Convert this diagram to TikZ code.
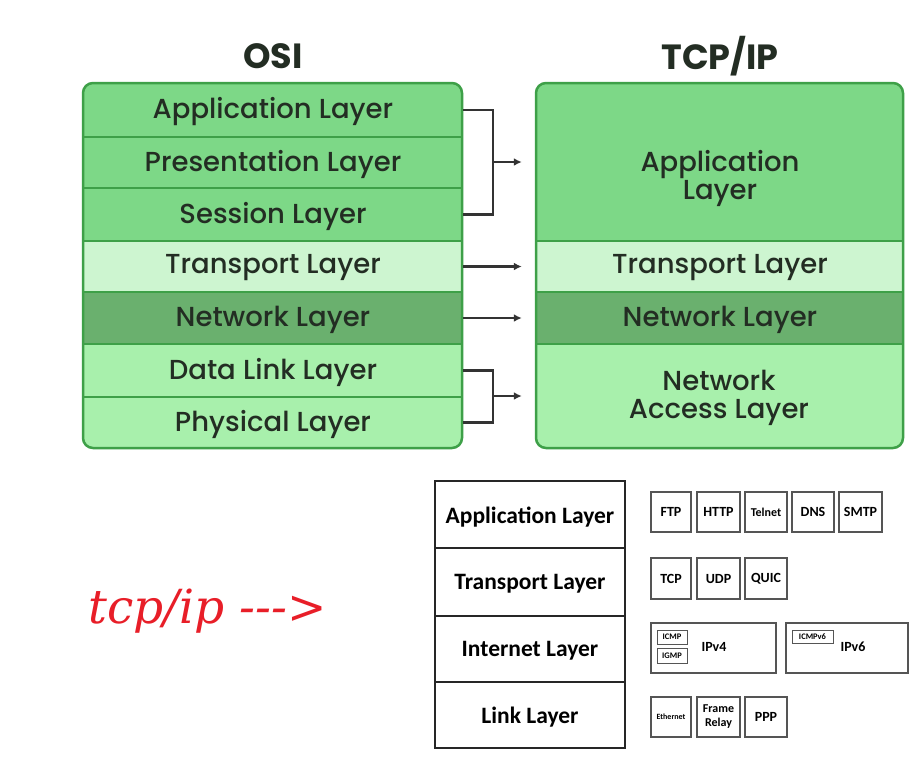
\documentclass[tikz,border=0pt]{standalone}
\usepackage{fontspec}
\setmainfont{Poppins}[UprightFont=* Medium, BoldFont=* Bold]
\newfontfamily\calfont{Carlito}
\newfontfamily\redfont{DejaVu Serif}
\usetikzlibrary{arrows.meta}
\definecolor{gMid}{RGB}{125,216,135}
\definecolor{gLight}{RGB}{205,245,208}
\definecolor{gDark}{RGB}{106,176,110}
\definecolor{gPale}{RGB}{168,240,172}
\definecolor{gBorder}{RGB}{62,160,72}
\definecolor{txt}{RGB}{35,45,35}
\definecolor{connc}{RGB}{51,51,51}
\definecolor{redtxt}{RGB}{232,30,40}
\definecolor{boxgray}{RGB}{85,85,85}
\begin{document}
\begin{tikzpicture}[x=1pt,y=-1pt,
  layerrow/.style={draw=gBorder,line width=2.5pt,inner sep=0pt,minimum width=#1},
  layertext/.style={font=\fontsize{27.5}{28}\selectfont,text=txt,align=center},
  title/.style={font=\bfseries\fontsize{35}{38}\selectfont,text=txt},
  link/.style={draw=connc,line width=2.8pt},
  arr/.style={link,-{Latex[length=8pt,width=8pt]},shorten >=13pt},
  cell/.style={draw=black!85,line width=1.5pt,minimum width=190pt,inner sep=0pt},
  celltext/.style={font=\calfont\bfseries\fontsize{23.5}{26}\selectfont},
  pbox/.style={draw=boxgray,line width=1.3pt,fill=white,inner sep=0pt,align=center,
    font=\calfont\bfseries\fontsize{14}{14}\selectfont},
  tiny/.style={pbox,line width=1pt,font=\calfont\bfseries\fontsize{8.5}{9}\selectfont}
]
\useasboundingbox (0,0) rectangle (912,764);
\fill[white] (0,0) rectangle (912,764);

% titles
\node[title] (osit) at (273,56) {OSI};
\node[title] (tcpt) at (720,56) {TCP/IP};

% OSI stack
\begin{scope}
\clip[rounded corners=10pt] (83,83) rectangle (462,448);
\node[layerrow=379pt,fill=gMid,minimum height=54pt] (o1) at (272.5,110) {};
\node[layerrow=379pt,fill=gMid,minimum height=51pt] (o2) at (272.5,162.5) {};
\node[layerrow=379pt,fill=gMid,minimum height=53pt] (o3) at (272.5,214.5) {};
\node[layerrow=379pt,fill=gLight,minimum height=51pt] (o4) at (272.5,266.5) {};
\node[layerrow=379pt,fill=gDark,minimum height=52pt] (o5) at (272.5,318) {};
\node[layerrow=379pt,fill=gPale,minimum height=53pt] (o6) at (272.5,370.5) {};
\node[layerrow=379pt,fill=gPale,minimum height=51pt] (o7) at (272.5,422.5) {};
\end{scope}
\draw[gBorder,line width=2.5pt,rounded corners=10pt] (83,83) rectangle (462,448);
\node[layertext] (o1l) at (273,112) {Application Layer};
\node[layertext] (o2l) at (273,164) {Presentation Layer};
\node[layertext] (o3l) at (273,216) {Session Layer};
\node[layertext] (o4l) at (273,268) {Transport Layer};
\node[layertext] (o5l) at (273,320) {Network Layer};
\node[layertext] (o6l) at (273,372) {Data Link Layer};
\node[layertext] (o7l) at (273,424) {Physical Layer};

% TCP/IP stack
\begin{scope}
\clip[rounded corners=10pt] (536,83) rectangle (903,448);
\node[layerrow=367pt,fill=gMid,minimum height=158pt] (t1) at (719.5,162) {};
\node[layerrow=367pt,fill=gLight,minimum height=51pt] (t2) at (719.5,266.5) {};
\node[layerrow=367pt,fill=gDark,minimum height=52pt] (t3) at (719.5,318) {};
\node[layerrow=367pt,fill=gPale,minimum height=104pt] (t4) at (719.5,396) {};
\end{scope}
\draw[gBorder,line width=2.5pt,rounded corners=10pt] (536,83) rectangle (903,448);
\node[layertext] (t1l) at (720,178) {Application\\Layer};
\node[layertext] (t2l) at (720,268) {Transport Layer};
\node[layertext] (t3l) at (720,320) {Network Layer};
\node[layertext] (t4l) at (719,398) {Network\\Access Layer};

% connectors
\coordinate (b1) at (493,0);
\draw[link] (o1.east) -- (o1.east -| b1) -- (o3.east -| b1) -- (o3.east);
\draw[arr] (b1 |- t1.west) -- (t1.west);
\draw[arr] (o4.east) -- (t2.west);
\draw[arr] (o5.east) -- (t3.west);
\draw[link] (o6.east) -- (o6.east -| b1) -- (o7.east -| b1) -- (o7.east);
\draw[arr] (b1 |- t4.west) -- (t4.west);

% red label
\node[anchor=base,text=redtxt,font=\redfont\itshape\fontsize{47}{50}\selectfont] (lbl) at (207.5,623) {tcp/ip {-}{-}{-}>};

% bottom table
\node[cell,minimum height=67pt] (c1) at (530,514.5) {};
\node[cell,minimum height=68pt] (c2) at (530,582) {};
\node[cell,minimum height=66pt] (c3) at (530,649) {};
\node[cell,minimum height=66pt] (c4) at (530,715) {};
\node[celltext] (c1l) at (530,517) {Application Layer};
\node[celltext] (c2l) at (530,584) {Transport Layer};
\node[celltext] (c3l) at (530,651) {Internet Layer};
\node[celltext] (c4l) at (530,717) {Link Layer};

% protocols
\node[pbox,minimum width=40pt,minimum height=40pt] (ftp) at (671,512) {FTP};
\node[pbox,minimum width=43pt,minimum height=40pt] (http) at (718.5,512) {HTTP};
\node[pbox,minimum width=42pt,minimum height=40pt,font=\calfont\bfseries\fontsize{12}{13}\selectfont] (telnet) at (766,512) {Telnet};
\node[pbox,minimum width=42pt,minimum height=40pt] (dns) at (813,512) {DNS};
\node[pbox,minimum width=43pt,minimum height=40pt] (smtp) at (860.5,512) {SMTP};

\node[pbox,minimum width=40pt,minimum height=41pt] (tcp) at (671,578.5) {TCP};
\node[pbox,minimum width=43pt,minimum height=41pt] (udp) at (718.5,578.5) {UDP};
\node[pbox,minimum width=42pt,minimum height=41pt] (quic) at (766,578.5) {QUIC};

\node[pbox,minimum width=125pt,minimum height=50pt] (ipv4) at (713.5,648) {};
\node[font=\calfont\bfseries\fontsize{14}{16}\selectfont] (ipv4l) at (714,647) {IPv4};
\node[tiny,minimum width=30pt,minimum height=14pt] (icmp) at (672,637) {ICMP};
\node[tiny,minimum width=30pt,minimum height=15pt] (igmp) at (672,655.5) {IGMP};
\node[pbox,minimum width=122pt,minimum height=50pt] (ipv6) at (847,648) {};
\node[font=\calfont\bfseries\fontsize{14}{16}\selectfont] (ipv6l) at (853,647) {IPv6};
\node[tiny,minimum width=41pt,minimum height=13pt] (icmp6) at (812.5,636.5) {ICMPv6};

\node[pbox,minimum width=40pt,minimum height=40pt,font=\calfont\bfseries\fontsize{8}{9}\selectfont] (eth) at (671,717) {Ethernet};
\node[pbox,minimum width=43pt,minimum height=40pt,font=\calfont\bfseries\fontsize{12}{14}\selectfont] (fr) at (718.5,717) {Frame\\Relay};
\node[pbox,minimum width=42pt,minimum height=40pt] (ppp) at (766,717) {PPP};
\end{tikzpicture}
\end{document}
